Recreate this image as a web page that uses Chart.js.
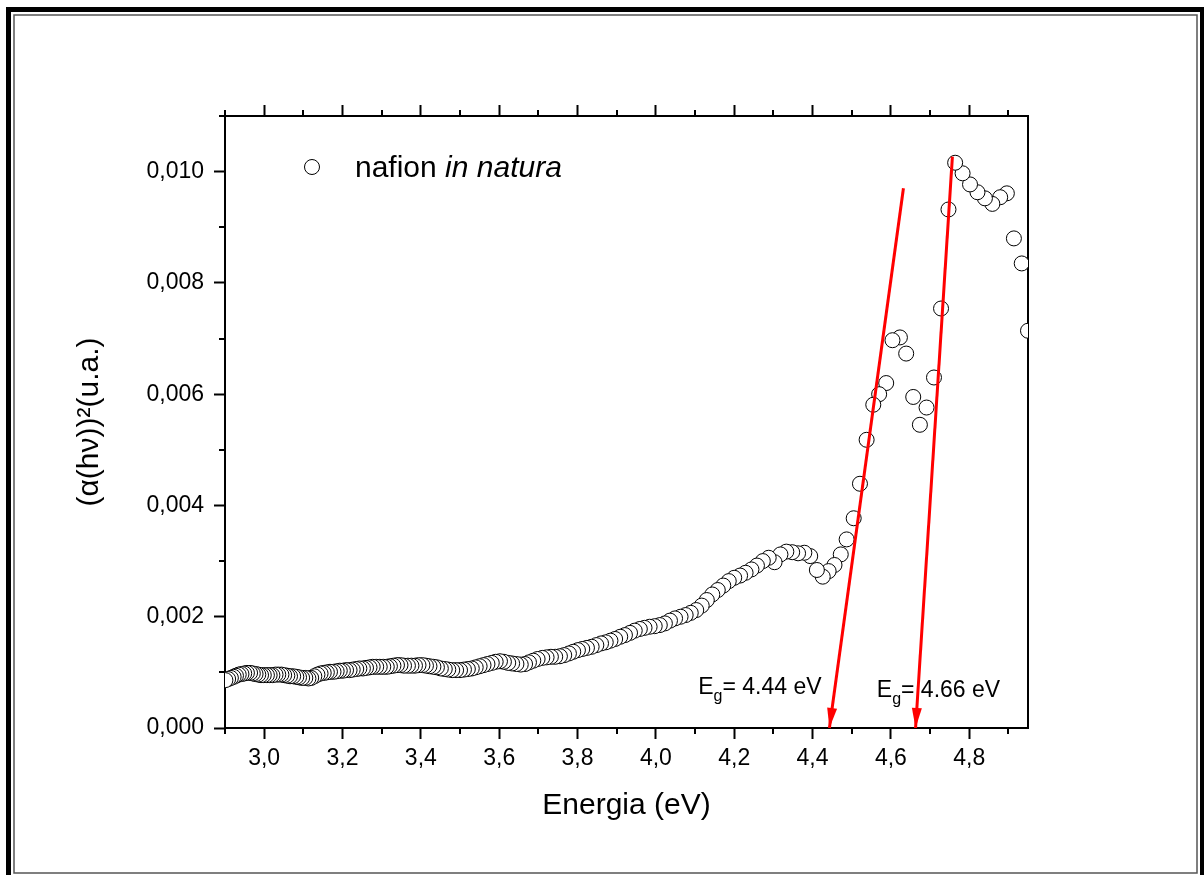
<!DOCTYPE html>
<html>
<head>
<meta charset="utf-8">
<script src="https://cdn.jsdelivr.net/npm/chart.js@4.4.1/dist/chart.umd.min.js"></script>
<style>
  html, body { margin: 0; padding: 0; background: #fff; }
</style>
</head>
<body>
<canvas id="js-chart-canvas" width="1204" height="875"></canvas>
<script>
// (α(hν))² vs energia - nafion in natura

const energy = [
  2.901, 2.908, 2.915, 2.922, 2.928, 2.935, 2.942, 2.949, 2.956, 2.964,
  2.971, 2.978, 2.985, 2.992, 2.999, 3.007, 3.014, 3.021, 3.029, 3.036,
  3.044, 3.051, 3.059, 3.066, 3.074, 3.082, 3.089, 3.097, 3.105, 3.113,
  3.120, 3.128, 3.136, 3.144, 3.152, 3.160, 3.168, 3.177, 3.185, 3.193,
  3.201, 3.209, 3.218, 3.226, 3.235, 3.243, 3.252, 3.260, 3.269, 3.277,
  3.286, 3.295, 3.304, 3.313, 3.321, 3.330, 3.339, 3.348, 3.357, 3.367,
  3.376, 3.385, 3.394, 3.404, 3.413, 3.422, 3.432, 3.441, 3.451, 3.461,
  3.470, 3.480, 3.490, 3.500, 3.510, 3.520, 3.530, 3.540, 3.550, 3.560,
  3.570, 3.581, 3.591, 3.602, 3.612, 3.623, 3.633, 3.644, 3.655, 3.666,
  3.676, 3.687, 3.698, 3.710, 3.721, 3.732, 3.743, 3.755, 3.766, 3.778,
  3.789, 3.801, 3.812, 3.824, 3.836, 3.848, 3.860, 3.872, 3.884, 3.896,
  3.909, 3.921, 3.934, 3.946, 3.959, 3.971, 3.984, 3.997, 4.010, 4.023,
  4.036, 4.049, 4.063, 4.076, 4.089, 4.103, 4.117, 4.130, 4.144, 4.158,
  4.172, 4.186, 4.200, 4.215, 4.229, 4.244, 4.258, 4.273, 4.288, 4.303,
  4.318, 4.333, 4.348, 4.363, 4.379, 4.394,
  4.411, 4.426, 4.441, 4.456, 4.472, 4.487, 4.505, 4.521, 4.538, 4.555,
  4.570, 4.588, 4.604, 4.623, 4.639, 4.657, 4.674, 4.691, 4.710, 4.728,
  4.747, 4.764, 4.783, 4.802, 4.821, 4.840, 4.859, 4.879, 4.896, 4.914,
  4.934, 4.950,
];

const absorb = [
  0.00086, 0.00088, 0.00090, 0.00092, 0.00094, 0.00096, 0.00097, 0.00098, 0.00099, 0.00099,
  0.00098, 0.00097, 0.00096, 0.00095, 0.00095, 0.00095, 0.00095, 0.00095, 0.00096, 0.00096,
  0.00096, 0.00095, 0.00094, 0.00093, 0.00093, 0.00092, 0.00091, 0.00090, 0.00090, 0.00089,
  0.00090, 0.00093, 0.00096, 0.00098, 0.00099, 0.00100, 0.00101, 0.00101, 0.00102, 0.00103,
  0.00103, 0.00104, 0.00104, 0.00105, 0.00106, 0.00107, 0.00107, 0.00108, 0.00109, 0.00110,
  0.00110, 0.00110, 0.00110, 0.00110, 0.00111, 0.00112, 0.00113, 0.00113, 0.00112, 0.00112,
  0.00112, 0.00112, 0.00113, 0.00113, 0.00112, 0.00111, 0.00110, 0.00109, 0.00107, 0.00106,
  0.00105, 0.00104, 0.00104, 0.00104, 0.00105, 0.00106, 0.00107, 0.00109, 0.00111, 0.00113,
  0.00115, 0.00117, 0.00119, 0.00120, 0.00119, 0.00117, 0.00116, 0.00115, 0.00114, 0.00115,
  0.00118, 0.00121, 0.00124, 0.00126, 0.00127, 0.00128, 0.00128, 0.00129, 0.00131, 0.00134,
  0.00137, 0.00140, 0.00142, 0.00144, 0.00146, 0.00149, 0.00152, 0.00154, 0.00157, 0.00160,
  0.00164, 0.00167, 0.00171, 0.00175, 0.00178, 0.00180, 0.00182, 0.00183, 0.00185, 0.00188,
  0.00193, 0.00197, 0.00200, 0.00203, 0.00207, 0.00212, 0.00220, 0.00230, 0.00240, 0.00248,
  0.00256, 0.00264, 0.00270, 0.00274, 0.00279, 0.00285, 0.00292, 0.00300, 0.00306, 0.00298,
  0.00312, 0.00317, 0.00316, 0.00314, 0.00315, 0.00309,
  0.00284, 0.00272, 0.00282, 0.00293, 0.00312, 0.00339, 0.00377, 0.00439, 0.00518, 0.00581,
  0.00600, 0.00620, 0.00697, 0.00702, 0.00673, 0.00595, 0.00545, 0.00576, 0.00630, 0.00754,
  0.00932, 0.01016, 0.00997, 0.00977, 0.00963, 0.00952, 0.00942, 0.00954, 0.00961, 0.00880,
  0.00835, 0.00714,
];

const xTicks = [3.0, 3.2, 3.4, 3.6, 3.8, 4.0, 4.2, 4.4, 4.6, 4.8];
const xMinorTicks = [2.9, 3.1, 3.3, 3.5, 3.7, 3.9, 4.1, 4.3, 4.5, 4.7, 4.9];
const yTicks = [0, 0.002, 0.004, 0.006, 0.008, 0.010];
const yMinorTicks = [0.001, 0.003, 0.005, 0.007, 0.009, 0.011];

// band gap arrows and labels
const gapValues = ["4.44", "4.66"];
const arrowTopX = [4.632, 4.757];
const arrowTopY = [0.0097, 0.01027];
const arrowTipX = [4.443, 4.663];
const arrowTipY = [0, 0];
const gapLabelX = [4.108, 4.564];
const gapLabelY = [0.00062, 0.00056];

const FONT = '"Liberation Sans", Arial, sans-serif';

const canvasContext = document
  .querySelector("#js-chart-canvas")
  .getContext("2d");

const points = energy
  .map((e, i) => ({ x: e, y: absorb[i] }))
  .reverse();

const datasets = [
  {
    label: "nafion in natura",
    data: points,
    pointStyle: "circle",
    pointRadius: 7.5,
    pointBackgroundColor: "#fff",
    pointBorderColor: "#000",
    pointBorderWidth: 1,
    showLine: false,
    clip: 0,
    order: 2,
  },
];

arrowTopX.forEach((x0, i) => {
  datasets.push({
    type: "line",
    label: "Eg " + gapValues[i],
    data: [
      { x: x0, y: arrowTopY[i] },
      { x: arrowTipX[i], y: arrowTipY[i] },
    ],
    borderColor: "#ff0000",
    borderWidth: 3,
    pointRadius: 0,
    fill: false,
    clip: false,
    order: 0,
  });
});

const tickFont = { family: FONT, size: 23 };
const titleFont = { family: FONT, size: 30 };
const axisGrid = {
  drawOnChartArea: false,
  drawTicks: true,
  tickLength: 11,
  tickWidth: 2,
  tickColor: "#000",
  color: "#000",
};
const axisBorder = { display: true, color: "#000", width: 2 };

const options = {
  responsive: false,
  animation: false,
  events: [],
  layout: { padding: 0 },
  scales: {
    x: {
      type: "linear",
      position: "bottom",
      min: 2.9,
      max: 4.95,
      afterBuildTicks: (s) => {
        s.ticks = xTicks.map((v) => ({ value: v }));
      },
      afterFit: (s) => {
        s.height = 147;
      },
      ticks: {
        font: tickFont,
        color: "#000",
        padding: 6,
        maxRotation: 0,
        autoSkip: false,
        callback: (v) => v.toFixed(1).replace(".", ","),
      },
      grid: axisGrid,
      border: axisBorder,
      title: {
        display: true,
        text: "Energia (eV)",
        font: titleFont,
        color: "#000",
        padding: { top: 0, bottom: 51 },
      },
    },
    xTop: {
      type: "linear",
      position: "top",
      min: 2.9,
      max: 4.95,
      afterBuildTicks: (s) => {
        s.ticks = xTicks.map((v) => ({ value: v }));
      },
      afterFit: (s) => {
        s.height = 116;
      },
      ticks: { display: false },
      grid: axisGrid,
      border: axisBorder,
    },
    y: {
      type: "linear",
      position: "left",
      min: 0,
      max: 0.011,
      afterBuildTicks: (s) => {
        s.ticks = yTicks.map((v) => ({ value: v }));
      },
      afterFit: (s) => {
        s.width = 225;
      },
      ticks: {
        font: tickFont,
        color: "#000",
        padding: 10,
        callback: (v) => v.toFixed(3).replace(".", ","),
      },
      grid: axisGrid,
      border: axisBorder,
      title: {
        display: true,
        text: "(α(hν))²(u.a.)",
        font: titleFont,
        color: "#000",
        padding: { top: 72, bottom: 0 },
      },
    },
    yRight: {
      type: "linear",
      position: "right",
      min: 0,
      max: 0.011,
      afterFit: (s) => {
        s.width = 176;
      },
      ticks: { display: false },
      grid: { drawOnChartArea: false, drawTicks: false, color: "#000" },
      border: axisBorder,
    },
  },
  plugins: {
    legend: { display: false },
    tooltip: { enabled: false },
  },
};

// double frame around the whole figure
const frameDraw = {
  id: "frameDraw",
  beforeDraw(chart) {
    const { ctx } = chart;
    ctx.save();
    ctx.fillStyle = "#fff";
    ctx.fillRect(0, 0, chart.width, chart.height);
    ctx.strokeStyle = "#000";
    ctx.lineWidth = 5;
    ctx.strokeRect(8.5, 9.5, 1194, 880);
    ctx.strokeStyle = "#555";
    ctx.lineWidth = 1.5;
    ctx.strokeRect(14, 15, 1183, 858);
    ctx.restore();
  },
};

// minor ticks, arrow heads, Eg labels and legend
const extrasDraw = {
  id: "extrasDraw",
  afterDraw(chart) {
    const {
      ctx,
      chartArea: { top, bottom, left },
      scales: { x, y },
    } = chart;

    ctx.save();
    ctx.strokeStyle = "#000";
    ctx.lineWidth = 2;
    ctx.beginPath();
    xMinorTicks.forEach((v) => {
      const px = Math.round(x.getPixelForValue(v));
      ctx.moveTo(px, bottom);
      ctx.lineTo(px, bottom + 6);
      ctx.moveTo(px, top);
      ctx.lineTo(px, top - 6);
    });
    yMinorTicks.forEach((v) => {
      const py = Math.round(y.getPixelForValue(v));
      ctx.moveTo(left, py);
      ctx.lineTo(left - 6, py);
    });
    ctx.stroke();

    // arrow heads
    ctx.fillStyle = "#ff0000";
    arrowTipX.forEach((tx0, i) => {
      const tx = x.getPixelForValue(tx0);
      const ty = y.getPixelForValue(arrowTipY[i]);
      const sx = x.getPixelForValue(arrowTopX[i]);
      const sy = y.getPixelForValue(arrowTopY[i]);
      const len = Math.hypot(tx - sx, ty - sy);
      const ux = (tx - sx) / len;
      const uy = (ty - sy) / len;
      const headLen = 20;
      const halfW = 5;
      const bx = tx - ux * headLen;
      const by = ty - uy * headLen;
      ctx.beginPath();
      ctx.moveTo(tx, ty);
      ctx.lineTo(bx - uy * halfW, by + ux * halfW);
      ctx.lineTo(bx + uy * halfW, by - ux * halfW);
      ctx.closePath();
      ctx.fill();
    });

    // Eg labels
    ctx.fillStyle = "#000";
    ctx.textBaseline = "alphabetic";
    ctx.textAlign = "left";
    gapValues.forEach((val, i) => {
      let px = x.getPixelForValue(gapLabelX[i]);
      const py = y.getPixelForValue(gapLabelY[i]);
      ctx.font = "23px " + FONT;
      ctx.fillText("E", px, py);
      px += ctx.measureText("E").width;
      ctx.font = "16px " + FONT;
      ctx.fillText("g", px, py + 7);
      px += ctx.measureText("g").width;
      ctx.font = "23px " + FONT;
      ctx.fillText("= " + val + " eV", px, py);
    });

    // legend
    const lx = left + 87;
    const ly = top + 51;
    ctx.beginPath();
    ctx.arc(lx, ly, 7.5, 0, Math.PI * 2);
    ctx.fillStyle = "#fff";
    ctx.fill();
    ctx.lineWidth = 1;
    ctx.strokeStyle = "#000";
    ctx.stroke();
    ctx.fillStyle = "#000";
    ctx.font = "30px " + FONT;
    const word = "nafion ";
    ctx.fillText(word, left + 130, top + 61);
    const wordW = ctx.measureText(word).width;
    ctx.font = "italic 30px " + FONT;
    ctx.fillText("in natura", left + 130 + wordW, top + 61);

    ctx.restore();
  },
};

const config = {
  type: "scatter",
  data: { datasets: datasets },
  options: options,
  plugins: [frameDraw, extrasDraw],
};

const nafionChart = new Chart(canvasContext, config);
</script>
</body>
</html>
